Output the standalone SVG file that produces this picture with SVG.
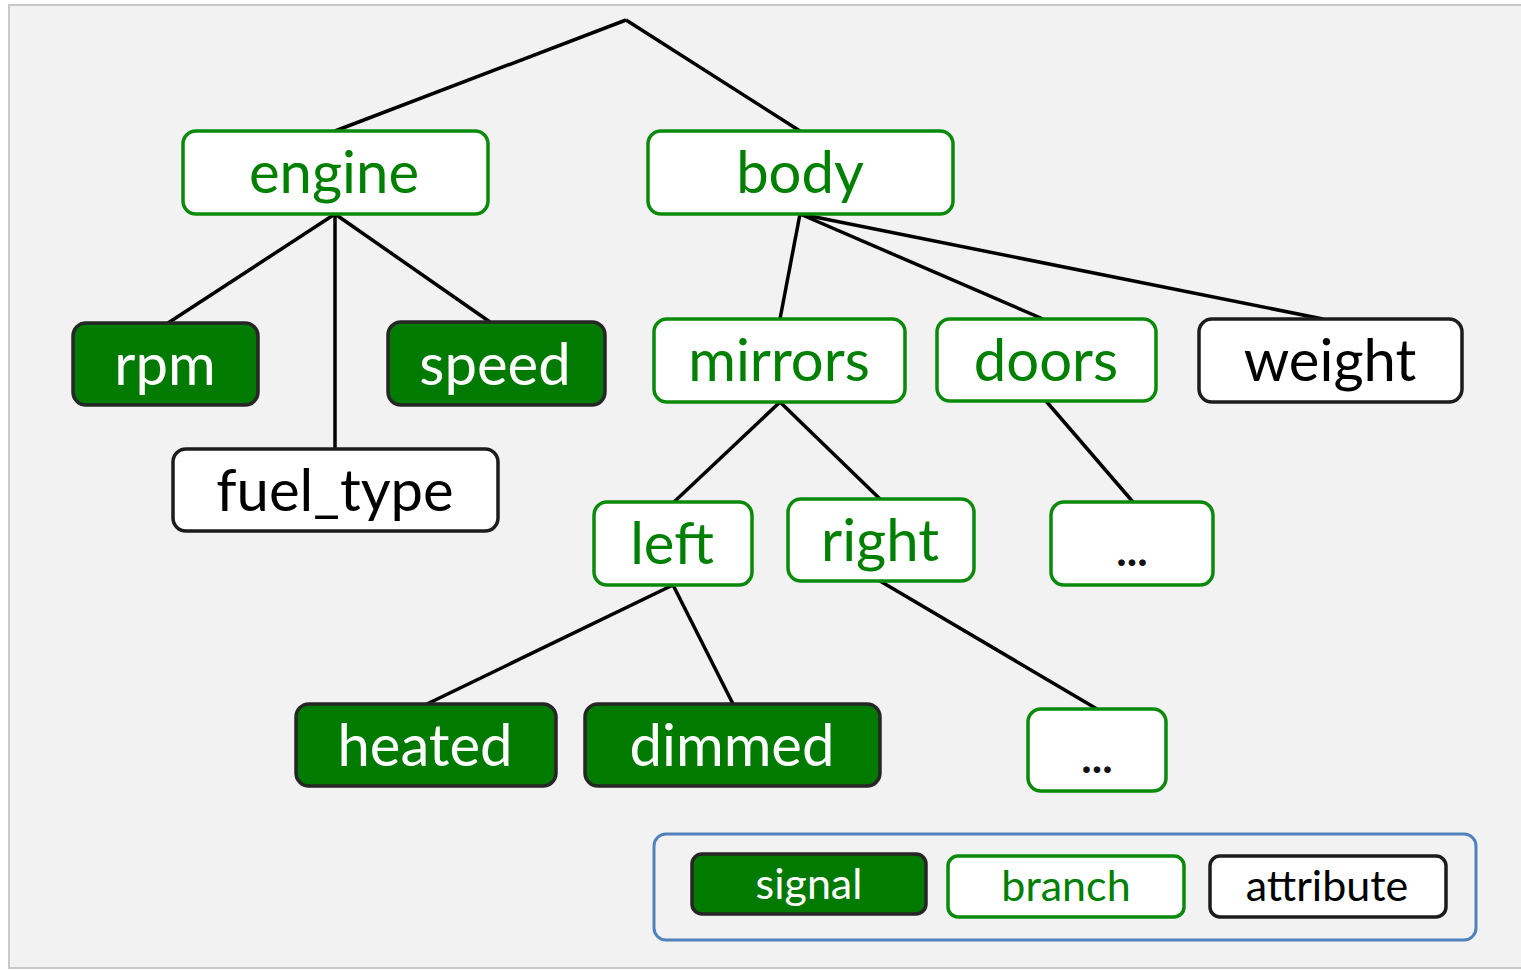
<svg xmlns="http://www.w3.org/2000/svg" width="1521" height="971" viewBox="0 0 1521 971">
<style>
.bg{fill:#f2f2f2;stroke:#c9c9c9;stroke-width:2}
.sig{fill:#007a00;stroke:#262626;stroke-width:3.5}
.br{fill:#ffffff;stroke:#0a8a0a;stroke-width:3.5}
.at{fill:#ffffff;stroke:#1c1c1c;stroke-width:3.5}
text{font-family:Lato,"Liberation Sans",sans-serif;font-size:58px;text-anchor:middle}
.ts{fill:#ffffff}
.tb{fill:#008000}
.ta{fill:#000000}
.lg{font-size:43px}
.dots{font-size:44px;font-weight:bold;fill:#111111}
.edge{stroke:#000000;stroke-width:3.5;fill:none}
</style>
<rect class="bg" x="9" y="5" width="1520" height="963"/>
<g id="connectors">
<line class="edge" x1="626" y1="20" x2="335" y2="131"/>
<line class="edge" x1="626" y1="20" x2="800" y2="131"/>
<line class="edge" x1="335" y1="214" x2="168" y2="323"/>
<line class="edge" x1="335" y1="214" x2="335" y2="449"/>
<line class="edge" x1="335" y1="214" x2="490" y2="322"/>
<line class="edge" x1="800" y1="214" x2="780" y2="319"/>
<line class="edge" x1="800" y1="214" x2="1043" y2="319"/>
<line class="edge" x1="800" y1="214" x2="1323" y2="319"/>
<line class="edge" x1="780" y1="402" x2="674" y2="502"/>
<line class="edge" x1="780" y1="402" x2="880" y2="499"/>
<line class="edge" x1="1046" y1="401" x2="1133" y2="502"/>
<line class="edge" x1="880" y1="581" x2="1097" y2="709"/>
<line class="edge" x1="673" y1="585" x2="427" y2="704"/>
<line class="edge" x1="673" y1="585" x2="733" y2="704"/>
</g>
<g id="engine"><rect class="br" x="183" y="131" width="305" height="83" rx="13"/><text class="tb" x="334" y="193">engine</text></g>
<g id="body"><rect class="br" x="648" y="131" width="305" height="83" rx="13"/><text class="tb" x="800" y="193">body</text></g>
<g id="rpm"><rect class="sig" x="73" y="323" width="185" height="82" rx="13"/><text class="ts" x="165" y="385">rpm</text></g>
<g id="speed"><rect class="sig" x="388" y="322" width="217" height="83" rx="13"/><text class="ts" x="495" y="385">speed</text></g>
<g id="fuel_type"><rect class="at" x="173" y="449" width="325" height="82" rx="13"/><text class="ta" x="335" y="511">fuel_type</text></g>
<g id="mirrors"><rect class="br" x="654" y="319" width="251" height="83" rx="13"/><text class="tb" x="779" y="381">mirrors</text></g>
<g id="doors"><rect class="br" x="937" y="319" width="219" height="82" rx="13"/><text class="tb" x="1046" y="381">doors</text></g>
<g id="weight"><rect class="at" x="1199" y="319" width="263" height="83" rx="13"/><text class="ta" x="1330" y="381">weight</text></g>
<g id="left"><rect class="br" x="594" y="502" width="158" height="83" rx="13"/><text class="tb" x="672" y="564">left</text></g>
<g id="right"><rect class="br" x="788" y="499" width="186" height="82" rx="13"/><text class="tb" x="880" y="561">right</text></g>
<g id="doors_more"><rect class="br" x="1051" y="502" width="162" height="83" rx="13"/><text class="dots" x="1132" y="566">...</text></g>
<g id="right_more"><rect class="br" x="1028" y="709" width="138" height="82" rx="13"/><text class="dots" x="1097" y="773">...</text></g>
<g id="heated"><rect class="sig" x="296" y="704" width="260" height="82" rx="13"/><text class="ts" x="425" y="766">heated</text></g>
<g id="dimmed"><rect class="sig" x="585" y="704" width="295" height="82" rx="13"/><text class="ts" x="732" y="766">dimmed</text></g>
<g id="legend">
<rect x="654" y="834" width="822" height="106" rx="12" fill="none" stroke="#4f81bd" stroke-width="3"/>
<g id="legend_signal"><rect class="sig" x="692" y="854" width="234" height="60" rx="10"/><text class="ts lg" x="809" y="899">signal</text></g>
<g id="legend_branch"><rect class="br" x="948" y="856" width="236" height="61" rx="10"/><text class="tb lg" x="1066" y="901">branch</text></g>
<g id="legend_attribute"><rect class="at" x="1210" y="856" width="236" height="61" rx="10"/><text class="ta lg" x="1327" y="901">attribute</text></g>
</g>
</svg>
